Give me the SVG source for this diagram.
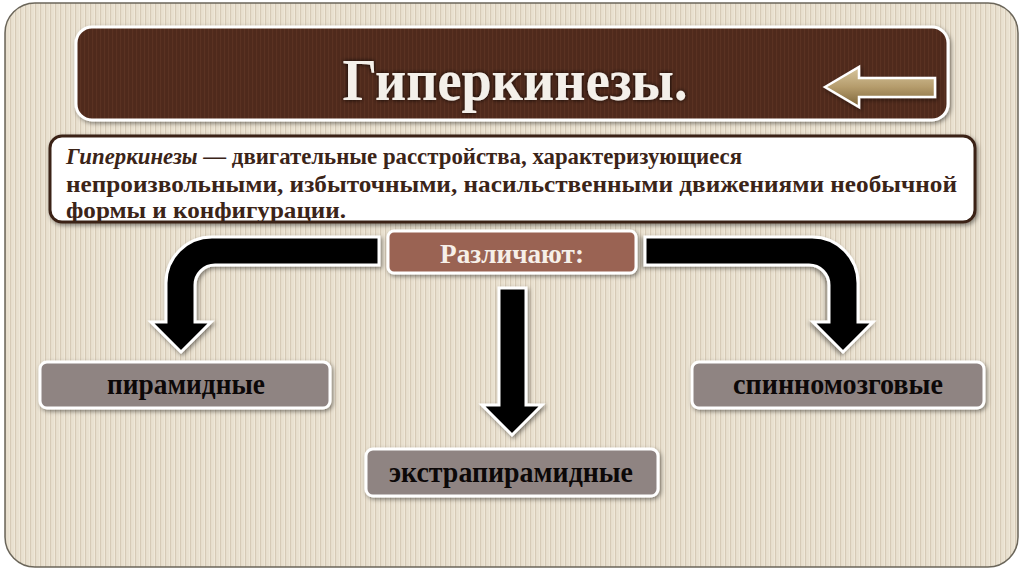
<svg xmlns="http://www.w3.org/2000/svg" width="1024" height="574" viewBox="0 0 1024 574">
  <defs>
    <pattern id="stripes" width="5" height="10" patternUnits="userSpaceOnUse">
      <rect width="5" height="10" fill="#efe7d8"/>
      <rect x="0" width="1.3" height="10" fill="#d6cab6"/>
      <rect x="2.6" width="0.8" height="10" fill="#e2d8c6"/>
    </pattern>
    <pattern id="darkstripes" width="4" height="10" patternUnits="userSpaceOnUse">
      <rect width="4" height="10" fill="#4f2a1b"/>
      <rect x="0" width="1.2" height="10" fill="#5a3222"/>
    </pattern>
    <linearGradient id="tan" x1="0" y1="0" x2="0" y2="1">
      <stop offset="0" stop-color="#d8c79f"/>
      <stop offset="0.5" stop-color="#b59c6c"/>
      <stop offset="1" stop-color="#7d6438"/>
    </linearGradient>
    <filter id="shadow" x="-10%" y="-20%" width="120%" height="150%">
      <feDropShadow dx="1.5" dy="2" stdDeviation="2" flood-color="#000" flood-opacity="0.45"/>
    </filter>
    <filter id="tshadow" x="-10%" y="-30%" width="120%" height="160%">
      <feDropShadow dx="0" dy="0" stdDeviation="2" flood-color="#000" flood-opacity="0.9"/>
    </filter>
    <style>
      .box { stroke: #ffffff; stroke-width: 3; filter: url(#shadow); }
      .node { fill: #8f8482; }
      .lbl { font-family: "Liberation Serif", "DejaVu Serif", serif; font-weight: bold; text-anchor: middle; fill: #0c0808; font-size: 29px; }
      .def { font-family: "Liberation Serif", "DejaVu Serif", serif; font-weight: bold; fill: #3b2418; font-size: 24px; }
      .arrow { fill: #000; stroke: #fff; stroke-width: 3; stroke-linejoin: miter; filter: url(#shadow); }
    </style>
  </defs>

  <rect x="0" y="0" width="1024" height="574" fill="#ffffff"/>
  <rect x="5" y="3" width="1013" height="564" rx="30" fill="url(#stripes)" stroke="#6b665a" stroke-width="1.5"/>

  <g id="title">
    <rect class="box" x="76" y="27" width="872" height="93" rx="16" fill="url(#darkstripes)"/>
    <text x="515" y="100" font-family="Liberation Serif, DejaVu Serif, serif" font-weight="bold" font-size="59" fill="#f4f0ea" text-anchor="middle" textLength="345" lengthAdjust="spacingAndGlyphs" filter="url(#tshadow)">Гиперкинезы.</text>
    <path d="M825,87 L859,67 L859,78 L935,78 L935,97 L859,97 L859,107 Z" fill="url(#tan)" stroke="#ffffff" stroke-width="2.5" filter="url(#shadow)"/>
  </g>

  <g id="definition">
    <rect x="50" y="136" width="925" height="86" rx="12" fill="#ffffff" stroke="#3b2418" stroke-width="3" filter="url(#shadow)"/>
    <text class="def" x="66" y="164" textLength="676" lengthAdjust="spacingAndGlyphs"><tspan font-style="italic">Гиперкинезы</tspan> — двигательные расстройства, характеризующиеся</text>
    <text class="def" x="66" y="192" textLength="891" lengthAdjust="spacingAndGlyphs">непроизвольными, избыточными, насильственными движениями необычной</text>
    <text class="def" x="66" y="218" textLength="280" lengthAdjust="spacingAndGlyphs">формы и конфигурации.</text>
  </g>

  <g id="connectors">
    <path class="arrow" d="M379,237 L212,237 A46,46 0 0 0 166,283 L166,322 L151,322 L181,352 L211,322 L195,322 L195,285 A20,20 0 0 1 215,265 L379,265 Z"/>
    <path class="arrow" transform="translate(1024,0) scale(-1,1)" d="M379,237 L212,237 A46,46 0 0 0 166,283 L166,322 L151,322 L181,352 L211,322 L195,322 L195,285 A20,20 0 0 1 215,265 L379,265 Z"/>
    <path class="arrow" d="M499,288 L526,288 L526,405 L542,405 L512,435 L482,405 L499,405 Z"/>
  </g>

  <g id="razlichayut">
    <rect class="box" x="388" y="231" width="248" height="42" rx="6" fill="#9a6352"/>
    <text x="512" y="263" font-family="Liberation Serif, DejaVu Serif, serif" font-weight="bold" font-size="28" fill="#f6efe8" text-anchor="middle" textLength="144" lengthAdjust="spacingAndGlyphs">Различают:</text>
  </g>

  <g id="piramidnye">
    <rect class="box node" x="40" y="362" width="290" height="46" rx="7"/>
    <text class="lbl" x="186" y="394" textLength="158" lengthAdjust="spacingAndGlyphs">пирамидные</text>
  </g>

  <g id="ekstrapiramidnye">
    <rect class="box node" x="366" y="449" width="292" height="47" rx="7"/>
    <text class="lbl" x="511" y="482" textLength="244" lengthAdjust="spacingAndGlyphs">экстрапирамидные</text>
  </g>

  <g id="spinnomozgovye">
    <rect class="box node" x="692" y="362" width="292" height="46" rx="7"/>
    <text class="lbl" x="838" y="394" textLength="210" lengthAdjust="spacingAndGlyphs">спинномозговые</text>
  </g>
</svg>
